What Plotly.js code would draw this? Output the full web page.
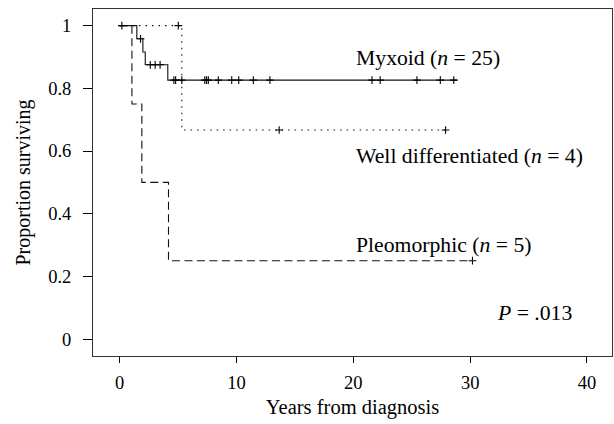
<!DOCTYPE html>
<html>
<head>
<meta charset="utf-8">
<script src="https://cdn.plot.ly/plotly-3.0.1.min.js"></script>
<style>html,body{margin:0;padding:0;background:#fff;}#chart{width:614px;height:424px;}</style>
</head>
<body>
<div id="chart"></div>
<script>
// Kaplan-Meier step points (time in years, proportion surviving)
const myxoidTime = [0, 1.48, 2.0, 2.2, 4.13, 28.9];
const myxoidSurv = [1, 0.958, 0.916, 0.875, 0.826, 0.826];
const myxoidCensorTime = [0.2, 1.8, 2.63, 3.05, 3.47, 4.65, 4.8, 5.33, 7.3, 7.45, 7.6, 8.45, 9.6, 10.2, 11.45, 12.87, 21.6, 22.3, 25.45, 27.45, 28.6];
const myxoidCensorSurv = [1, 0.958, 0.875, 0.875, 0.875, 0.826, 0.826, 0.826, 0.826, 0.826, 0.826, 0.826, 0.826, 0.826, 0.826, 0.826, 0.826, 0.826, 0.826, 0.826, 0.826];

const wellTime = [0, 5.33, 27.9];
const wellSurv = [1, 0.667, 0.667];
const wellCensorTime = [5.03, 13.66, 27.9];
const wellCensorSurv = [1, 0.667, 0.667];

const pleoTime = [0, 1.06, 1.91, 4.19, 30.2];
const pleoSurv = [1, 0.75, 0.5, 0.25, 0.25];
const pleoCensorTime = [30.2];
const pleoCensorSurv = [0.25];

const xTicks = [0, 10, 20, 30, 40];
const yTicks = [0, 0.2, 0.4, 0.6, 0.8, 1];
const yTickLabels = ['0', '0.2', '0.4', '0.6', '0.8', '1'];

const labels = ['Myxoid (<i>n</i> = 25)', 'Well differentiated (<i>n</i> = 4)', 'Pleomorphic (<i>n</i> = 5)', '<i>P</i> = .013'];
const labelX = [20.1, 20.1, 20.1, 32.1];
const labelY = [0.896, 0.585, 0.30, 0.083];

const FONT = 'Liberation Serif, Times New Roman, serif';

function stepLine(x, y, dash) {
  return {x: x, y: y, type: 'scatter', mode: 'lines', line: {shape: 'hv', color: '#111', width: 1.1, dash: dash}, hoverinfo: 'skip', showlegend: false};
}
function censor(x, y) {
  return {x: x, y: y, type: 'scatter', mode: 'markers', marker: {symbol: 'cross-thin', size: 5.5, line: {color: '#000', width: 1.1}}, hoverinfo: 'skip', showlegend: false};
}

const data = [
  stepLine(wellTime, wellSurv, '1.5px,5px'),
  stepLine(pleoTime, pleoSurv, '8px,4.5px'),
  stepLine(myxoidTime, myxoidSurv, 'solid'),
  censor(myxoidCensorTime, myxoidCensorSurv),
  censor(wellCensorTime, wellCensorSurv),
  censor(pleoCensorTime, pleoCensorSurv)
];

const annotations = labels.map((t, i) => ({
  x: labelX[i], y: labelY[i], xref: 'x', yref: 'y', text: t, showarrow: false,
  xanchor: 'left', yanchor: 'middle', font: {family: FONT, size: 21.7, color: '#000'}
}));

const layout = {
  width: 614, height: 424,
  margin: {l: 93, r: 1.5, t: 9, b: 68},
  paper_bgcolor: '#fff', plot_bgcolor: '#fff',
  font: {family: FONT, size: 18, color: '#000'},
  xaxis: {
    range: [-2.27, 42.14], tickvals: xTicks, ticktext: xTicks.map(String),
    showgrid: false, zeroline: false, showline: true, mirror: true, linecolor: '#333', linewidth: 1,
    ticks: 'outside', ticklen: 6, tickcolor: '#000', tickwidth: 1,
    tickfont: {family: FONT, size: 18.5}, ticklabelstandoff: 4,
    title: {text: 'Years from diagnosis', font: {family: FONT, size: 20.5}, standoff: 7}
  },
  yaxis: {
    range: [-0.054, 1.053], tickvals: yTicks, ticktext: yTickLabels,
    showgrid: false, zeroline: false, showline: true, mirror: true, linecolor: '#333', linewidth: 1,
    ticks: 'outside', ticklen: 9, tickcolor: '#000', tickwidth: 1,
    tickfont: {family: FONT, size: 18.5}, ticklabelstandoff: 8,
    title: {text: 'Proportion surviving', font: {family: FONT, size: 20}, standoff: 12}
  },
  annotations: annotations
};

Plotly.newPlot('chart', data, layout, {staticPlot: true, displayModeBar: false});
</script>
</body>
</html>
